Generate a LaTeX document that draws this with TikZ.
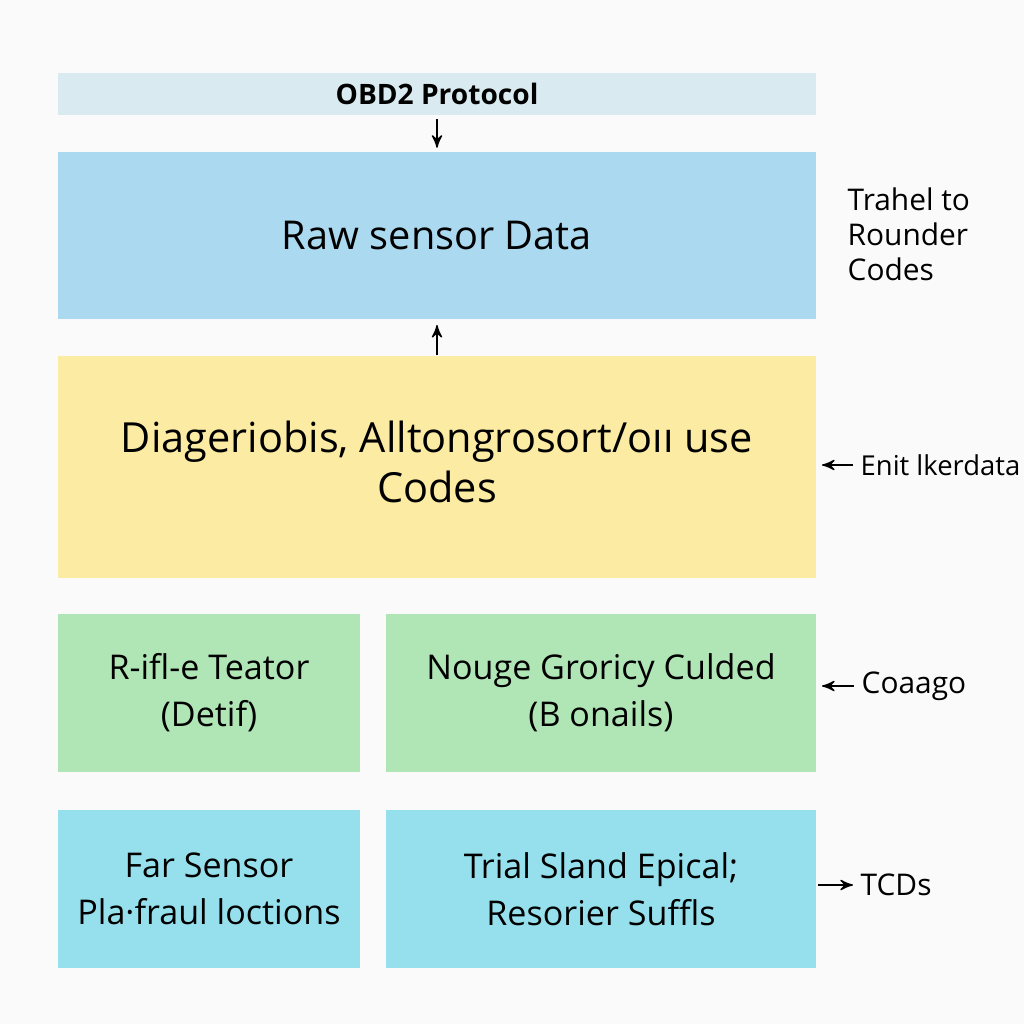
\documentclass[tikz,border=0pt]{standalone}
\usepackage{fontspec}
\setmainfont{Open Sans}
\usepackage{tikz}
\usetikzlibrary{arrows}
\definecolor{fond}{rgb}{0.98,0.98,0.98}
\definecolor{cbar}{rgb}{0.85,0.92,0.94}
\definecolor{cbleu}{rgb}{0.67,0.85,0.94}
\definecolor{cjaune}{rgb}{0.99,0.92,0.64}
\definecolor{cvert}{rgb}{0.69,0.90,0.71}
\definecolor{ccyan}{rgb}{0.59,0.88,0.93}
\begin{document}
\begin{tikzpicture}[->, >=stealth', thin]
  \tikzstyle{bloc}=[rectangle, draw=none, text=black, inner sep=0pt, align=center, minimum width=7.58cm]
  \tikzstyle{petit}=[rectangle, draw=none, text=black, inner sep=0pt, align=center, minimum height=1.58cm, font=\fontsize{9.7}{13.4}\selectfont]
  \tikzstyle{note}=[anchor=west, inner sep=0pt, align=left, font=\fontsize{8.5}{10}\selectfont]

	\useasboundingbox[fill=fond] (0,0) rectangle (10.24,-10.24);

	\node[bloc, fill=cbar, minimum height=0.42cm, font=\fontsize{8}{10}\selectfont\bfseries] (OBD) at (4.37,-0.94) {OBD2 Protocol};
	\node[bloc, fill=cbleu, minimum height=1.67cm, font=\fontsize{11.3}{14}\selectfont] (RAW) at (4.37,-2.355) {Raw sensor Data};
	\node[bloc, fill=cjaune, minimum height=2.22cm, font=\fontsize{11.8}{14.2}\selectfont] (DIAG) at (4.37,-4.67) {Diageriobis, Alltongrosort/oıı use\\Codes\\[-11pt]};

	\node[petit, fill=cvert, minimum width=3.02cm] (G1) at (2.09,-6.93) {R-ifl-e Teator\\(Detif)};
	\node[petit, fill=cvert, minimum width=4.30cm] (G2) at (6.01,-6.93) {Nouge Groricy Culded\\(B onails)};
	\node[petit, fill=ccyan, minimum width=3.02cm] (C1) at (2.09,-8.89) {Far Sensor\\Pla·fraul loctions};
	\node[petit, fill=ccyan, minimum width=4.30cm] (C2) at (6.01,-8.89) {Trial Sland Epical;\\Resorier Suffls};

	% notes a droite
	\node[note] (N1) at (8.47,-2.34) {Trahel to\\Rounder\\Codes};
	\node[note, font=\fontsize{7.8}{10}\selectfont] (N2) at (8.60,-4.65) {Enit lkerdata};
	\node[note] (N3) at (8.61,-6.86) {Coaago};
	\node[note] (N4) at (8.60,-8.85) {TCDs};
	\coordinate (P2) at (8.22,-4.65);
	\coordinate (P3) at (8.22,-6.86);
	\coordinate (P4) at (8.18,-8.85);

	\path
		(OBD) edge [shorten <=1pt, shorten >=1pt] (RAW)
		(DIAG) edge [shorten >=1.5pt] (RAW)
		(N2) edge [shorten <=2pt] (P2)
		(N3) edge [shorten <=2pt] (P3)
		(P4) edge [shorten >=2pt] (N4)
		;

\end{tikzpicture}
\end{document}
